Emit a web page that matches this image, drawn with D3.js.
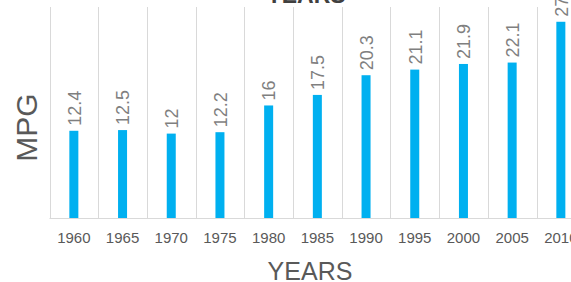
<!DOCTYPE html>
<html>
<head>
<meta charset="utf-8">
<script src="https://cdn.jsdelivr.net/npm/d3@7"></script>
<style>
  body { margin: 0; background: #fff; }
  svg { display: block; font-family: "Liberation Sans", Arial, sans-serif; }
</style>
</head>
<body>
<div id="chart"></div>
<script>
// chart data
var years = ["1960", "1965", "1970", "1975", "1980", "1985", "1990", "1995", "2000", "2005", "2010"];
var mpg = [12.4, 12.5, 12, 12.2, 16, 17.5, 20.3, 21.1, 21.9, 22.1, 27.9];
var yDomain = [0, 30];

var svgWidth = 571;
var svgHeight = 282;
var plot = { left: 49.5, top: 7, bottom: 218, step: 48.7 };

var svg = d3.select("#chart")
    .append("svg")
    .attr("width", svgWidth)
    .attr("height", svgHeight);

var xScale = d3.scaleBand()
    .domain(years)
    .range([plot.left, plot.left + plot.step * years.length])
    .paddingInner(0.815)
    .paddingOuter(0.4075);

var yScale = d3.scaleLinear()
    .domain(yDomain)
    .range([plot.bottom, plot.top]);

// vertical separators between categories
var edges = d3.range(years.length + 1).map(i => plot.left + i * plot.step);
svg.append("g").selectAll("line")
    .data(edges)
    .enter()
    .append("line")
    .attr("x1", d => Math.round(d) + 0.5)
    .attr("x2", d => Math.round(d) + 0.5)
    .attr("y1", plot.top)
    .attr("y2", plot.bottom)
    .attr("stroke", "#d9d9d9")
    .attr("stroke-width", 1);

// baseline
svg.append("line")
    .attr("x1", plot.left)
    .attr("x2", svgWidth)
    .attr("y1", plot.bottom + 0.5)
    .attr("y2", plot.bottom + 0.5)
    .attr("stroke", "#d9d9d9");

// bars
svg.append("g").selectAll("rect")
    .data(mpg)
    .enter()
    .append("rect")
    .attr("x", (d, i) => xScale(years[i]))
    .attr("y", d => yScale(d))
    .attr("width", xScale.bandwidth())
    .attr("height", d => plot.bottom - yScale(d))
    .attr("fill", "#00b0f0");

// value labels
svg.append("g").selectAll("text")
    .data(mpg)
    .enter()
    .append("text")
    .attr("transform", (d, i) => `translate(${xScale(years[i]) + xScale.bandwidth() / 2}, ${yScale(d) - 5}) rotate(-90)`)
    .attr("dy", "0.38em")
    .attr("font-size", "18px")
    .attr("fill", "#7f7f7f")
    .text(d => d);

// x axis labels
var xAxis = d3.axisBottom(xScale).tickSize(0).tickPadding(14);
var xg = svg.append("g")
    .attr("transform", `translate(0, ${plot.bottom})`)
    .call(xAxis);
xg.select(".domain").remove();
xg.selectAll("text")
    .attr("font-family", "Liberation Sans, Arial, sans-serif")
    .attr("font-size", "15px")
    .attr("fill", "#595959");

// titles
svg.append("text")
    .attr("x", 306)
    .attr("y", 3)
    .attr("text-anchor", "middle")
    .attr("font-size", "23px")
    .attr("font-weight", "bold")
    .attr("fill", "#404040")
    .text("YEARS");

svg.append("text")
    .attr("x", 310)
    .attr("y", 280)
    .attr("text-anchor", "middle")
    .attr("font-size", "25px")
    .attr("fill", "#595959")
    .text("YEARS");

svg.append("text")
    .attr("transform", "translate(37, 127.5) rotate(-90)")
    .attr("text-anchor", "middle")
    .attr("font-size", "30px")
    .attr("fill", "#595959")
    .text("MPG");
</script>
</body>
</html>
